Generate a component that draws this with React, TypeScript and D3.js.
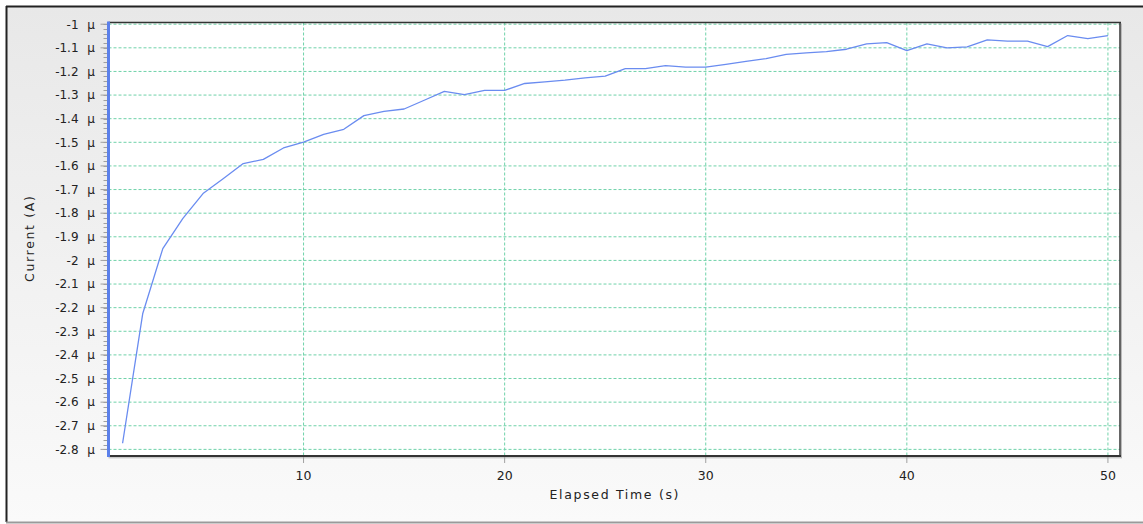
import React from "react";
import * as d3 from "d3";

const elapsedTime: number[] = d3.range(1, 51);
const currentMicroA: number[] = [
  -2.774, -2.226, -1.95, -1.822, -1.717, -1.654, -1.59, -1.572, -1.524, -1.499,
  -1.466, -1.445, -1.387, -1.369, -1.359, -1.322, -1.284, -1.298, -1.28, -1.28,
  -1.251, -1.244, -1.237, -1.227, -1.22, -1.188, -1.188, -1.175, -1.182, -1.182,
  -1.17, -1.157, -1.146, -1.128, -1.121, -1.116, -1.106, -1.083, -1.078, -1.112,
  -1.083, -1.1, -1.096, -1.066, -1.072, -1.072, -1.095, -1.048, -1.061, -1.048,
];
const yTicks: number[] = [
  -1, -1.1, -1.2, -1.3, -1.4, -1.5, -1.6, -1.7, -1.8, -1.9, -2, -2.1, -2.2,
  -2.3, -2.4, -2.5, -2.6, -2.7, -2.8,
];
const xTicks: number[] = [10, 20, 30, 40, 50];
const xTitle = "Elapsed Time (s)";
const yTitle = "Current (A)";

const W = 1143;
const H = 524;
const plot = { left: 108.5, top: 22.5, right: 1120, bottom: 456 };
const FONT = "'DejaVu Sans', Verdana, sans-serif";

export default function App() {
  const x = d3.scaleLinear().domain([0.3, 50.6]).range([plot.left, plot.right]);
  const y = d3.scaleLinear().domain([-0.9928, -2.828]).range([plot.top, plot.bottom]);
  const line = d3
    .line<number>()
    .x((_, i) => x(elapsedTime[i]))
    .y((d) => y(d));
  const minorTicks = d3.range(-2.8, -0.99, 0.02).filter((v) => v >= -2.82);
  const gridColor = "#6fd2a9";

  return (
    <svg
      width={W}
      height={H}
      style={{ position: "absolute", left: 0, top: 0, display: "block" }}
      fontFamily={FONT}
    >
      <defs>
        <linearGradient id="bg" x1="0" y1="0" x2="0" y2="1">
          <stop offset="0" stopColor="#e8e8e8" />
          <stop offset="1" stopColor="#fafafa" />
        </linearGradient>
      </defs>
      <rect x={0} y={0} width={W} height={H} fill="#ffffff" />
      <rect x={6} y={6.5} width={W + 10} height={516} fill="url(#bg)" />
      {/* outer frame */}
      <line x1={6} y1={6.5} x2={W} y2={6.5} stroke="#222" strokeWidth={2} />
      <line x1={6.5} y1={6} x2={6.5} y2={522} stroke="#222" strokeWidth={2} />
      <line x1={6} y1={522.5} x2={W} y2={522.5} stroke="#9a9a9a" strokeWidth={2} />

      {/* plot area */}
      <rect
        x={plot.left}
        y={plot.top}
        width={plot.right - plot.left}
        height={plot.bottom - plot.top}
        fill="#ffffff"
      />
      {/* grid */}
      {yTicks.map((t) => (
        <line
          key={"gy" + t}
          x1={plot.left}
          x2={plot.right}
          y1={y(t)}
          y2={y(t)}
          stroke={gridColor}
          strokeWidth={1}
          strokeDasharray="3,2"
        />
      ))}
      {xTicks.map((t) => (
        <line
          key={"gx" + t}
          x1={x(t)}
          x2={x(t)}
          y1={plot.top}
          y2={plot.bottom}
          stroke={gridColor}
          strokeWidth={1}
          strokeDasharray="3,2"
        />
      ))}

      {/* data line */}
      <path
        d={line(currentMicroA) || ""}
        fill="none"
        stroke="#6a8cf0"
        strokeWidth={1.3}
        strokeLinejoin="round"
      />

      {/* plot borders */}
      <line x1={plot.left} x2={plot.right + 1} y1={plot.top} y2={plot.top} stroke="#333" strokeWidth={1.5} />
      <line x1={plot.right} x2={plot.right} y1={plot.top} y2={plot.bottom} stroke="#333" strokeWidth={1.5} />
      <line x1={plot.right + 1.5} x2={plot.right + 1.5} y1={plot.top + 1} y2={plot.bottom + 2} stroke="#bbb" strokeWidth={1} />
      <line x1={plot.left} x2={plot.right + 1} y1={plot.bottom} y2={plot.bottom} stroke="#333" strokeWidth={2} />
      <line x1={plot.left} x2={plot.right + 2} y1={plot.bottom + 1.8} y2={plot.bottom + 1.8} stroke="#b5b5b5" strokeWidth={1} />

      {/* y axis ticks */}
      {minorTicks.map((t, i) => (
        <line
          key={"my" + i}
          x1={plot.left - 5}
          x2={plot.left}
          y1={Math.round(y(t)) + 0.5}
          y2={Math.round(y(t)) + 0.5}
          stroke="#a0a0a0"
          strokeWidth={1}
        />
      ))}
      {yTicks.map((t) => (
        <line
          key={"ty" + t}
          x1={plot.left - 8}
          x2={plot.left}
          y1={y(t)}
          y2={y(t)}
          stroke="#a0a0a0"
          strokeWidth={1}
        />
      ))}
      <line x1={plot.left} x2={plot.left} y1={plot.top - 1} y2={plot.bottom + 1} stroke="#5b80ea" strokeWidth={3} />
      {yTicks.map((t) => (
        <text
          key={"ly" + t}
          x={95}
          y={y(t)}
          dy="0.36em"
          textAnchor="end"
          fontSize={12}
          fill="#222"
          style={{ whiteSpace: "pre", wordSpacing: "5px" }}
        >
          {`${t} μ`}
        </text>
      ))}

      {/* x axis ticks */}
      {xTicks.map((t) => (
        <g key={"tx" + t}>
          <line x1={x(t)} x2={x(t)} y1={plot.bottom + 1} y2={plot.bottom + 7} stroke="#a0a0a0" strokeWidth={1} />
          <text x={x(t)} y={480} textAnchor="middle" fontSize={12.5} fill="#222">
            {t}
          </text>
        </g>
      ))}

      {/* titles */}
      <text
        x={(549 + 679) / 2}
        y={499}
        textAnchor="middle"
        fontSize={12.5}
        fill="#222"
        textLength={129}
        lengthAdjust="spacing"
      >
        {xTitle}
      </text>
      <text
        transform={`translate(34, 239) rotate(-90)`}
        textAnchor="middle"
        fontSize={12.5}
        fill="#222"
        textLength={86}
        lengthAdjust="spacing"
      >
        {yTitle}
      </text>
    </svg>
  );
}
